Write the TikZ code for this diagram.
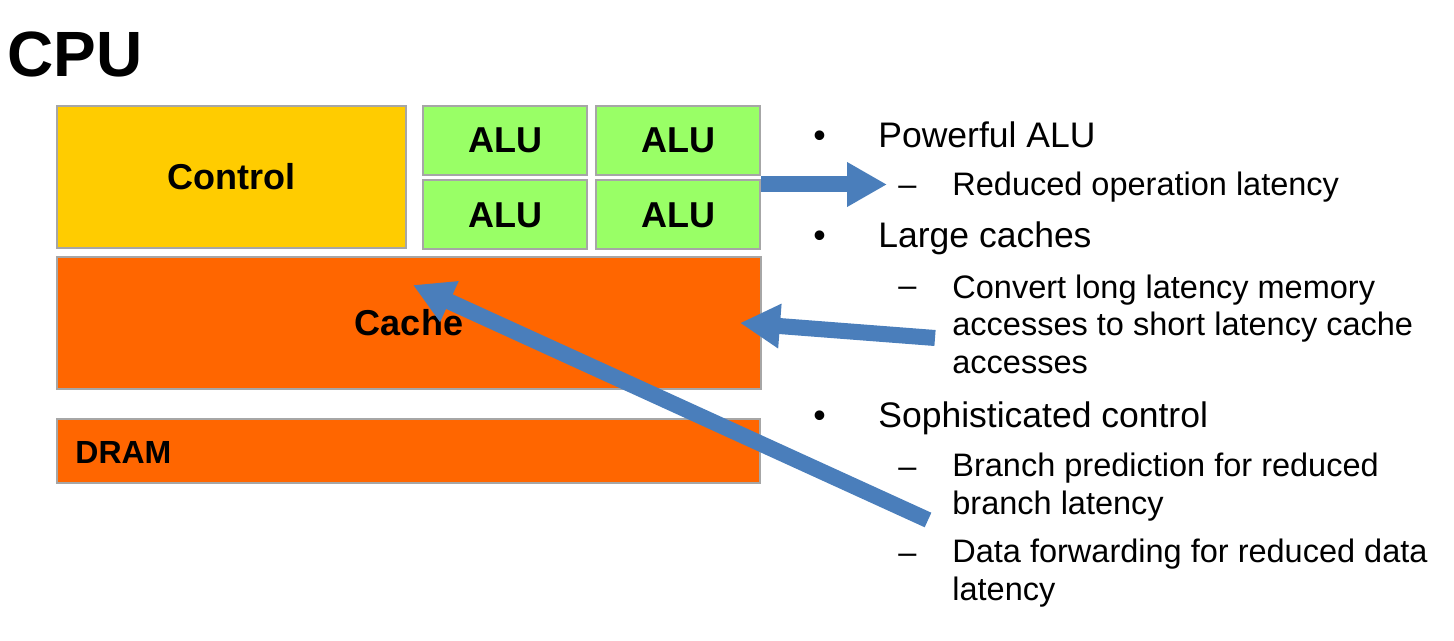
\documentclass[tikz,border=0pt]{standalone}
\usepackage{fontspec}
\setmainfont{Liberation Sans}
\usetikzlibrary{arrows.meta}
\definecolor{ctrlyellow}{HTML}{FFCC00}
\definecolor{alugreen}{HTML}{99FF66}
\definecolor{cacheorange}{HTML}{FF6600}
\definecolor{boxgray}{HTML}{A6A6A6}
\definecolor{arrowblue}{HTML}{4A7EBB}
\tikzstyle{unit} = [rectangle, draw=boxgray, line width=1pt, inner sep=0pt, font=\fontsize{18}{21}\selectfont\bfseries]
\tikzstyle{ctrlbox} = [unit, fill=ctrlyellow, minimum width=174.5pt, minimum height=71pt]
\tikzstyle{alubox} = [unit, fill=alugreen, minimum width=82pt, minimum height=34.5pt]
\tikzstyle{cachebox} = [unit, fill=cacheorange, minimum width=352pt, minimum height=66pt]
\tikzstyle{drambox} = [unit, fill=cacheorange, minimum width=351.5pt, minimum height=32pt, font=\fontsize{16}{19}\selectfont\bfseries]
\tikzstyle{lvlone} = [anchor=base west, inner sep=0pt, font=\fontsize{17.75}{21}\selectfont]
\tikzstyle{lvltwo} = [anchor=base west, inner sep=0pt, align=left, font=\fontsize{16.25}{18.75}\selectfont]
\tikzstyle{arrow} = [draw=arrowblue, line width=8pt, -{Triangle[length=20pt,width=21pt]}]

\begin{document}
\begin{tikzpicture}[x=0.5pt, y=-0.5pt]
		\useasboundingbox (0,0) rectangle (1454,641);
		\node (title) [anchor=base west, inner sep=0pt, font=\fontsize{32}{36}\selectfont\bfseries] at (7,77) {CPU};
		
		\node (control) [ctrlbox] at (231.5,177) {Control};
		\node (alu1) [alubox] at (505,140.5) {ALU};
		\node (alu2) [alubox] at (678,140.5) {ALU};
		\node (alu3) [alubox] at (505,215) {ALU};
		\node (alu4) [alubox] at (678,215) {ALU};
		\node (cache) [cachebox] at (409,323) {Cache};
		\node (dram) [drambox] at (408.5,451) {};
		\node (dramtext) [anchor=base west, inner sep=0pt, font=\fontsize{16}{19}\selectfont\bfseries] at (75,463) {DRAM};
		
		% bullet list (multi-line nodes sit on their last line)
		\node (b1) [lvlone] at (813,148) {•};
		\node (powerful) [lvlone] at (878,148) {Powerful ALU};
		\node (d1) [lvltwo] at (898,196) {–};
		\node (reduced) [lvltwo] at (952,196) {Reduced operation latency};
		\node (b2) [lvlone] at (813,248) {•};
		\node (large) [lvlone] at (878,248) {Large caches};
		\node (d2) [lvltwo] at (898,297) {–};
		\node (convert) [lvltwo] at (952,373) {Convert long latency memory\\accesses to short latency cache\\accesses};
		\node (b3) [lvlone] at (813,427) {•};
		\node (soph) [lvlone] at (878,427) {Sophisticated control};
		\node (d3) [lvltwo] at (898,477) {–};
		\node (branch) [lvltwo] at (952,514) {Branch prediction for reduced\\branch latency};
		\node (d4) [lvltwo] at (898,563) {–};
		\node (forward) [lvltwo] at (952,600) {Data forwarding for reduced data\\latency};
		
		\coordinate (aluout) at (761,184.5);
		\coordinate (alutip) at (887,184.5);
		\coordinate (cachetail) at (935,338);
		\coordinate (cachetip) at (740,323);
		\coordinate (ctrltail) at (928,520);
		\coordinate (ctrltip) at (413,285);
		
		\draw [arrow] (aluout) -- (alutip);
		\draw [arrow] (cachetail) -- (cachetip);
		\draw [arrow] (ctrltail) -- (ctrltip);
		
\end{tikzpicture}
\end{document}
